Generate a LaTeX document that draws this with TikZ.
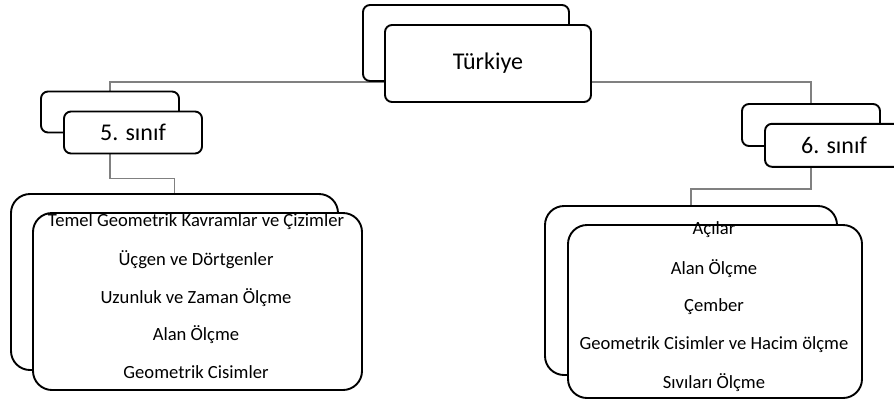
\documentclass[tikz,border=0pt]{standalone}
\usepackage{fontspec}
\setmainfont{Carlito}
\usetikzlibrary{backgrounds}

\begin{document}
\begin{tikzpicture}[x=1pt,y=-1pt,
  box/.style={draw=black,line width=1.9pt,fill=white,rounded corners=7pt,inner sep=0pt},
  listbox/.style={box,rounded corners=19pt},
  wire/.style={draw=black!50,line width=1.3pt},
  head/.style={font=\fontsize{24}{28}\selectfont,text=black},
  item/.style={font=\fontsize{18.6}{22}\selectfont,text=black},
]

\clip (0,0) rectangle (894,400);

\node[box,minimum width=206pt,minimum height=76pt] (tback) at (466,43) {};
\node[box,minimum width=206pt,minimum height=77pt,head] (tfront) at (488,63.5) {Türkiye};

\node[box,minimum width=138pt,minimum height=41pt] (s5back) at (110,112) {};
\node[box,minimum width=138pt,minimum height=42pt,head] (s5front) at (133,132.5) {5. sınıf};

\node[box,minimum width=138pt,minimum height=42pt] (s6back) at (811,125) {};
\node[box,minimum width=138pt,minimum height=43pt,head] (s6front) at (834,145.3) {6. sınıf};

\node[listbox,minimum width=327pt,minimum height=176pt] (l5back) at (174.5,282) {};
\node[listbox,minimum width=329pt,minimum height=177pt] (l5front) at (197.5,301.5) {};
\foreach \txt [count=\i] in {Temel Geometrik Kavramlar ve Çizimler,Üçgen ve Dörtgenler,
    Uzunluk ve Zaman Ölçme,Alan Ölçme,Geometrik Cisimler}
  \node[item] (l5i\i) at (196,184+37.7*\i) {\txt};

\node[listbox,minimum width=292pt,minimum height=169pt] (l6back) at (691,290.5) {};
\node[listbox,minimum width=294pt,minimum height=173pt] (l6front) at (715,311.5) {};
\foreach \txt [count=\i] in {Açılar,Alan Ölçme,Çember,
    Geometrik Cisimler ve Hacim ölçme,Sıvıları Ölçme}
  \node[item] (l6i\i) at (714,191.8+38.2*\i) {\txt};

\begin{scope}[on background layer]
\draw[wire] (tback.south) -| (s5back.north);
\draw[wire] (tback.south) -| (s6back.north);
\draw[wire] (s5back.south) -- ++(0,45) -| (l5back.north);
\draw[wire] (s6back.south) -- ++(0,42) -| (l6back.north);
\end{scope}

\end{tikzpicture}
\end{document}
